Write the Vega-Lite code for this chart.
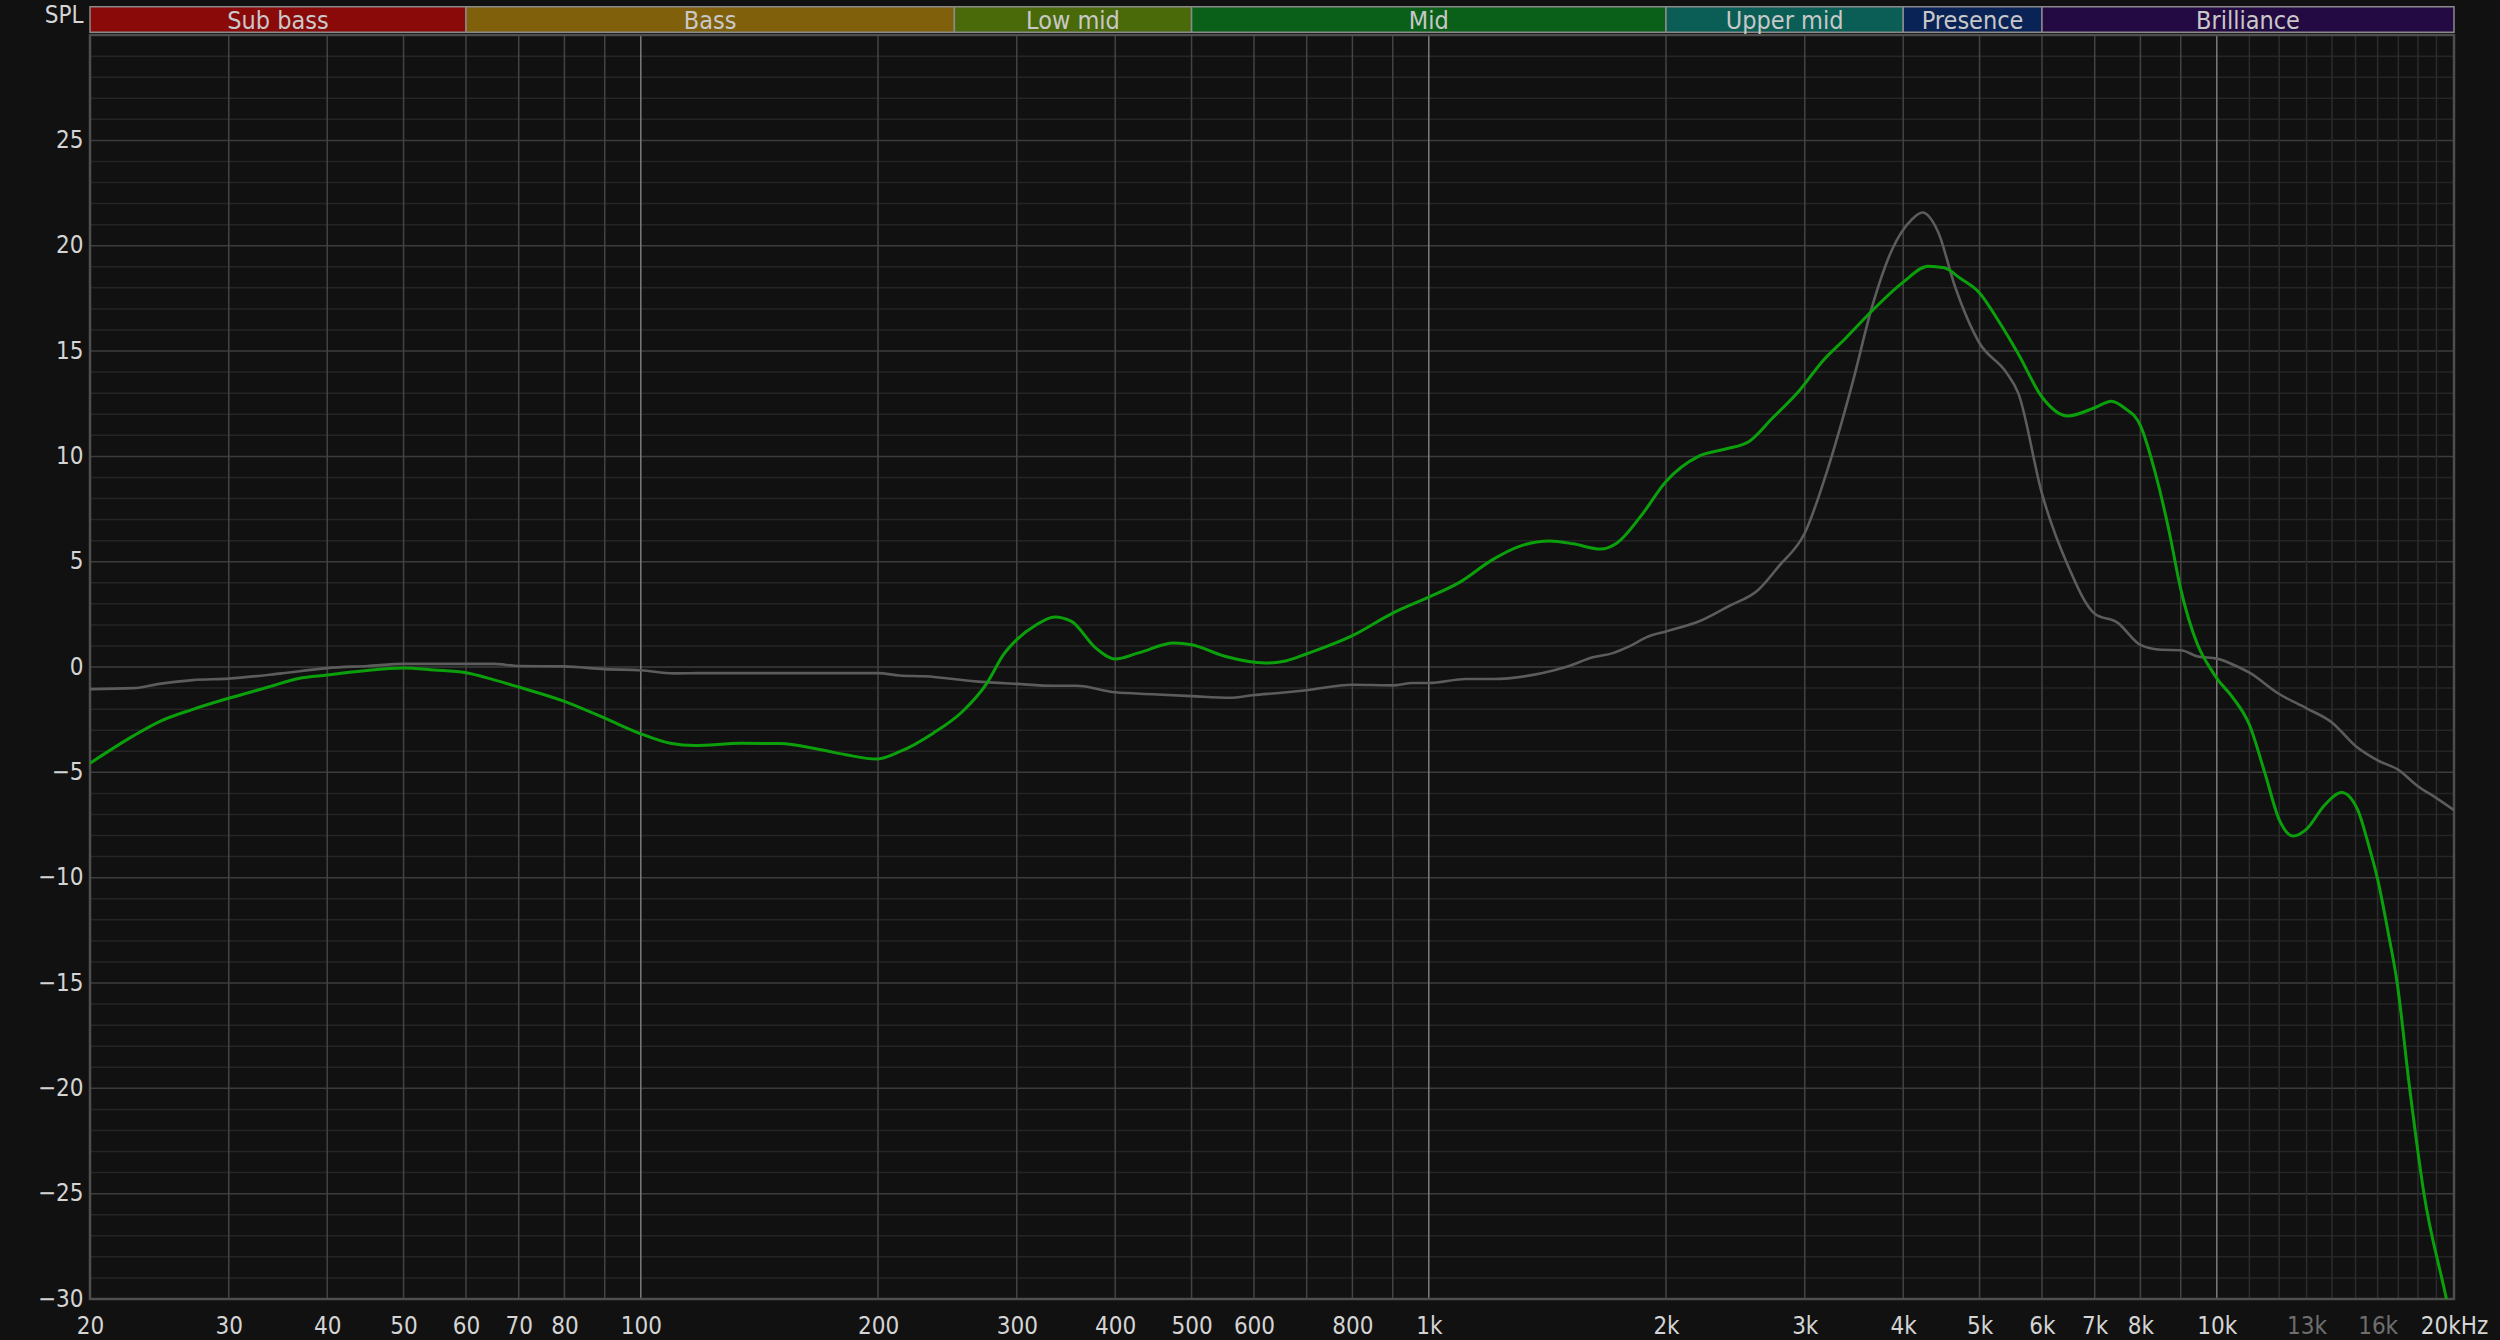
{
  "$schema": "https://vega.github.io/schema/vega-lite/v6.json",
  "width": 2364,
  "height": 1293,
  "autosize": {"type": "none"},
  "padding": {"left": 90, "top": 6, "right": 46, "bottom": 41},
  "background": "#111111",
  "config": {
    "view": {"stroke": null},
    "font": "Liberation Sans Narrow, DejaVu Sans Condensed, Roboto, sans-serif",
    "axis": {"grid": false, "domain": false, "ticks": false, "labelFont": "Liberation Sans Narrow, DejaVu Sans Condensed, Roboto, sans-serif", "labelFontSize": 24, "labelColor": "#d4d4d4"}
  },
  "datasets": {
    "green": [
      {"f": 20, "db": -4.57}, {"f": 22.7, "db": -3.27}, {"f": 24.5, "db": -2.59}, {"f": 26.9, "db": -2.03},
      {"f": 30, "db": -1.48}, {"f": 33.7, "db": -0.95}, {"f": 36.8, "db": -0.54}, {"f": 40, "db": -0.38},
      {"f": 44.3, "db": -0.19}, {"f": 50, "db": -0.05}, {"f": 54.6, "db": -0.14}, {"f": 60, "db": -0.27},
      {"f": 65, "db": -0.6}, {"f": 70, "db": -0.95}, {"f": 80, "db": -1.63}, {"f": 90, "db": -2.43},
      {"f": 100, "db": -3.17}, {"f": 109, "db": -3.62}, {"f": 117, "db": -3.73}, {"f": 134, "db": -3.62},
      {"f": 150, "db": -3.63}, {"f": 168, "db": -3.9}, {"f": 182, "db": -4.16}, {"f": 199, "db": -4.37},
      {"f": 213, "db": -4.02}, {"f": 235, "db": -3.14}, {"f": 256, "db": -2.11}, {"f": 275, "db": -0.76},
      {"f": 289, "db": 0.62}, {"f": 300, "db": 1.3}, {"f": 317, "db": 1.98}, {"f": 335, "db": 2.38},
      {"f": 352, "db": 2.17}, {"f": 378, "db": 0.9}, {"f": 400, "db": 0.38}, {"f": 428, "db": 0.67},
      {"f": 475, "db": 1.14}, {"f": 500, "db": 1.06}, {"f": 551, "db": 0.51}, {"f": 620, "db": 0.19},
      {"f": 660, "db": 0.3}, {"f": 700, "db": 0.63}, {"f": 800, "db": 1.49}, {"f": 900, "db": 2.56},
      {"f": 1000, "db": 3.32}, {"f": 1094, "db": 4.02}, {"f": 1205, "db": 5.1}, {"f": 1303, "db": 5.73},
      {"f": 1424, "db": 5.98}, {"f": 1525, "db": 5.85}, {"f": 1651, "db": 5.6}, {"f": 1733, "db": 5.89},
      {"f": 1857, "db": 7.15}, {"f": 2000, "db": 8.81}, {"f": 2199, "db": 10.0}, {"f": 2380, "db": 10.35},
      {"f": 2550, "db": 10.71}, {"f": 2730, "db": 11.82}, {"f": 2954, "db": 13.13}, {"f": 3160, "db": 14.52},
      {"f": 3385, "db": 15.63}, {"f": 3650, "db": 16.9}, {"f": 4000, "db": 18.27}, {"f": 4300, "db": 19.03},
      {"f": 4510, "db": 18.95}, {"f": 4730, "db": 18.44}, {"f": 5000, "db": 17.76}, {"f": 5290, "db": 16.4},
      {"f": 5600, "db": 14.86}, {"f": 6000, "db": 12.82}, {"f": 6470, "db": 11.92}, {"f": 7000, "db": 12.31},
      {"f": 7350, "db": 12.62}, {"f": 7630, "db": 12.31}, {"f": 8000, "db": 11.46}, {"f": 8350, "db": 9.25},
      {"f": 8690, "db": 6.53}, {"f": 9000, "db": 3.7}, {"f": 9450, "db": 1.08}, {"f": 9850, "db": -0.16},
      {"f": 10000, "db": -0.54}, {"f": 10450, "db": -1.39}, {"f": 11000, "db": -2.74}, {"f": 11500, "db": -4.99},
      {"f": 12000, "db": -7.24}, {"f": 12500, "db": -8.02}, {"f": 13000, "db": -7.69}, {"f": 13700, "db": -6.56},
      {"f": 14400, "db": -5.96}, {"f": 15100, "db": -6.79}, {"f": 15560, "db": -8.36}, {"f": 16020, "db": -10.16},
      {"f": 16500, "db": -12.6}, {"f": 16940, "db": -15.0}, {"f": 17570, "db": -20.0}, {"f": 18320, "db": -25.0},
      {"f": 19560, "db": -30.0}, {"f": 20000, "db": -31.8}
    ],
    "gray": [
      {"f": 20, "db": -1.05}, {"f": 22.7, "db": -1.0}, {"f": 24.5, "db": -0.8}, {"f": 27, "db": -0.62},
      {"f": 30, "db": -0.55}, {"f": 35, "db": -0.3}, {"f": 40, "db": -0.05}, {"f": 45, "db": 0.05},
      {"f": 50, "db": 0.15}, {"f": 60, "db": 0.15}, {"f": 65, "db": 0.15}, {"f": 70, "db": 0.05},
      {"f": 80, "db": 0.03}, {"f": 90, "db": -0.1}, {"f": 100, "db": -0.15}, {"f": 110, "db": -0.3},
      {"f": 120, "db": -0.29}, {"f": 200, "db": -0.29}, {"f": 213, "db": -0.4}, {"f": 229, "db": -0.44},
      {"f": 266, "db": -0.68}, {"f": 300, "db": -0.8}, {"f": 334, "db": -0.89}, {"f": 357, "db": -0.89},
      {"f": 400, "db": -1.2}, {"f": 446, "db": -1.29}, {"f": 500, "db": -1.38}, {"f": 559, "db": -1.46},
      {"f": 600, "db": -1.33}, {"f": 646, "db": -1.23}, {"f": 700, "db": -1.1}, {"f": 800, "db": -0.84},
      {"f": 900, "db": -0.87}, {"f": 953, "db": -0.76}, {"f": 1000, "db": -0.76}, {"f": 1115, "db": -0.57},
      {"f": 1205, "db": -0.57}, {"f": 1395, "db": -0.28}, {"f": 1493, "db": 0.0}, {"f": 1615, "db": 0.46},
      {"f": 1712, "db": 0.66}, {"f": 1796, "db": 0.98}, {"f": 1902, "db": 1.46}, {"f": 2000, "db": 1.69},
      {"f": 2220, "db": 2.22}, {"f": 2400, "db": 2.88}, {"f": 2620, "db": 3.67}, {"f": 2780, "db": 4.78},
      {"f": 3000, "db": 6.36}, {"f": 3220, "db": 9.59}, {"f": 3450, "db": 13.5}, {"f": 3650, "db": 17.07},
      {"f": 3870, "db": 19.8}, {"f": 4100, "db": 21.24}, {"f": 4230, "db": 21.58}, {"f": 4430, "db": 20.65},
      {"f": 4650, "db": 18.1}, {"f": 5000, "db": 15.37}, {"f": 5400, "db": 14.01}, {"f": 5600, "db": 12.99},
      {"f": 6000, "db": 8.23}, {"f": 6470, "db": 4.83}, {"f": 7000, "db": 2.53}, {"f": 7480, "db": 2.11},
      {"f": 8000, "db": 1.05}, {"f": 8500, "db": 0.82}, {"f": 9000, "db": 0.8}, {"f": 9460, "db": 0.5},
      {"f": 10000, "db": 0.4}, {"f": 10650, "db": 0.0}, {"f": 11000, "db": -0.27}, {"f": 12000, "db": -1.28},
      {"f": 13000, "db": -1.96}, {"f": 14000, "db": -2.63}, {"f": 15000, "db": -3.75}, {"f": 16000, "db": -4.43},
      {"f": 17000, "db": -4.88}, {"f": 18000, "db": -5.66}, {"f": 19000, "db": -6.22}, {"f": 20000, "db": -6.79}
    ],
    "bands": [
      {"band": "Sub bass", "lo": 20, "hi": 60},
      {"band": "Bass", "lo": 60, "hi": 250},
      {"band": "Low mid", "lo": 250, "hi": 500},
      {"band": "Mid", "lo": 500, "hi": 2000},
      {"band": "Upper mid", "lo": 2000, "hi": 4000},
      {"band": "Presence", "lo": 4000, "hi": 6000},
      {"band": "Brilliance", "lo": 6000, "hi": 20000}
    ],
    "xgrid": [
      {"f": 30}, {"f": 40}, {"f": 50}, {"f": 60}, {"f": 70}, {"f": 80}, {"f": 90}, {"f": 100},
      {"f": 200}, {"f": 300}, {"f": 400}, {"f": 500}, {"f": 600}, {"f": 700}, {"f": 800}, {"f": 900}, {"f": 1000},
      {"f": 2000}, {"f": 3000}, {"f": 4000}, {"f": 5000}, {"f": 6000}, {"f": 7000}, {"f": 8000}, {"f": 9000}, {"f": 10000},
      {"f": 11000}, {"f": 12000}, {"f": 13000}, {"f": 14000}, {"f": 15000}, {"f": 16000}, {"f": 17000}, {"f": 18000}, {"f": 19000}
    ],
    "ygrid": [
      {"db": -29}, {"db": -28}, {"db": -27}, {"db": -26}, {"db": -25}, {"db": -24}, {"db": -23}, {"db": -22}, {"db": -21}, {"db": -20},
      {"db": -19}, {"db": -18}, {"db": -17}, {"db": -16}, {"db": -15}, {"db": -14}, {"db": -13}, {"db": -12}, {"db": -11}, {"db": -10},
      {"db": -9}, {"db": -8}, {"db": -7}, {"db": -6}, {"db": -5}, {"db": -4}, {"db": -3}, {"db": -2}, {"db": -1}, {"db": 0},
      {"db": 1}, {"db": 2}, {"db": 3}, {"db": 4}, {"db": 5}, {"db": 6}, {"db": 7}, {"db": 8}, {"db": 9}, {"db": 10},
      {"db": 11}, {"db": 12}, {"db": 13}, {"db": 14}, {"db": 15}, {"db": 16}, {"db": 17}, {"db": 18}, {"db": 19}, {"db": 20},
      {"db": 21}, {"db": 22}, {"db": 23}, {"db": 24}, {"db": 25}, {"db": 26}, {"db": 27}, {"db": 28}, {"db": 29}
    ]
  },
  "layer": [
    {
      "data": {"name": "ygrid"},
      "mark": {"type": "rule", "strokeWidth": 1.5},
      "encoding": {
        "x": {"datum": 20, "type": "quantitative",
          "scale": {"type": "log", "domain": [20, 20000], "nice": false},
          "axis": {"values": [20,30,40,50,60,70,80,100,200,300,400,500,600,800,1000,2000,3000,4000,5000,6000,7000,8000,10000,13000,16000,20000],
            "labelExpr": "datum.value == 20000 ? '20kHz' : (datum.value >= 1000 ? (datum.value/1000) + 'k' : '' + datum.value)",
            "labelColor": {"condition": {"test": "datum.value == 13000 || datum.value == 16000", "value": "#6e6e6e"}, "value": "#d4d4d4"},
            "labelAlign": "center", "labelBaseline": "alphabetic", "labelPadding": 34, "labelFlush": false, "labelOverlap": false, "labelBound": false,
            "title": null}},
        "x2": {"datum": 20000},
        "y": {"field": "db", "type": "quantitative",
          "scale": {"domain": [-30, 31.38], "nice": false, "zero": false},
          "axis": {"values": [-30,-25,-20,-15,-10,-5,0,5,10,15,20,25], "labelPadding": 7, "labelAlign": "right", "labelBaseline": "middle", "labelFlush": false, "labelOverlap": false,
            "title": "SPL", "titleAngle": 0, "titleAlign": "right", "titleBaseline": "alphabetic", "titleX": -7, "titleY": 16,
            "titleFontSize": 24, "titleFontWeight": "normal", "titleColor": "#d4d4d4", "titleFont": "Liberation Sans Narrow, DejaVu Sans Condensed, Roboto, sans-serif"}},
        "color": {"condition": {"test": "datum.db % 5 == 0", "value": "#3c3c3c"}, "value": "#252525"}
      }
    },
    {
      "data": {"name": "xgrid"},
      "mark": {"type": "rule", "strokeWidth": 1.5},
      "encoding": {
        "x": {"field": "f", "type": "quantitative"},
        "y": {"datum": -30, "type": "quantitative"},
        "y2": {"datum": 30},
        "color": {"condition": [
          {"test": "datum.f == 100 || datum.f == 1000 || datum.f == 10000", "value": "#7c7c7c"},
          {"test": "datum.f > 10000", "value": "#2c2c2c"}
        ], "value": "#434343"}
      }
    },
    {
      "data": {"values": [{"a": 1}]},
      "mark": {"type": "rect", "fill": null, "fillOpacity": 0, "stroke": "#4e4e4e", "strokeWidth": 2.5},
      "encoding": {
        "x": {"datum": 20, "type": "quantitative"},
        "x2": {"datum": 20000},
        "y": {"datum": -30, "type": "quantitative"},
        "y2": {"datum": 30}
      }
    },
    {
      "data": {"name": "bands"},
      "mark": {"type": "rect", "stroke": "#8a8a8a", "strokeWidth": 1.5},
      "encoding": {
        "x": {"field": "lo", "type": "quantitative"},
        "x2": {"field": "hi"},
        "y": {"datum": 30.13, "type": "quantitative"},
        "y2": {"datum": 31.35},
        "fill": {"field": "band", "type": "nominal", "legend": null,
          "scale": {"domain": ["Sub bass", "Bass", "Low mid", "Mid", "Upper mid", "Presence", "Brilliance"],
            "range": ["#8a0909", "#80600b", "#4a6a0a", "#0a6019", "#0a5e55", "#0a2356", "#240a42"]}}
      }
    },
    {
      "data": {"name": "bands"},
      "transform": [{"calculate": "sqrt(datum.lo * datum.hi)", "as": "center"}],
      "mark": {"type": "text", "fontSize": 25, "color": "#c8c8c8", "align": "center", "baseline": "alphabetic"},
      "encoding": {
        "x": {"field": "center", "type": "quantitative"},
        "y": {"datum": 30.27, "type": "quantitative"},
        "text": {"field": "band"}
      }
    },
    {
      "data": {"name": "gray"},
      "mark": {"type": "line", "color": "#5c5c5c", "strokeWidth": 2.6, "interpolate": "monotone", "clip": true},
      "encoding": {
        "x": {"field": "f", "type": "quantitative"},
        "y": {"field": "db", "type": "quantitative"}
      }
    },
    {
      "data": {"name": "green"},
      "mark": {"type": "line", "color": "#0ba00b", "strokeWidth": 3, "interpolate": "monotone", "clip": true},
      "encoding": {
        "x": {"field": "f", "type": "quantitative"},
        "y": {"field": "db", "type": "quantitative"}
      }
    }
  ]
}
